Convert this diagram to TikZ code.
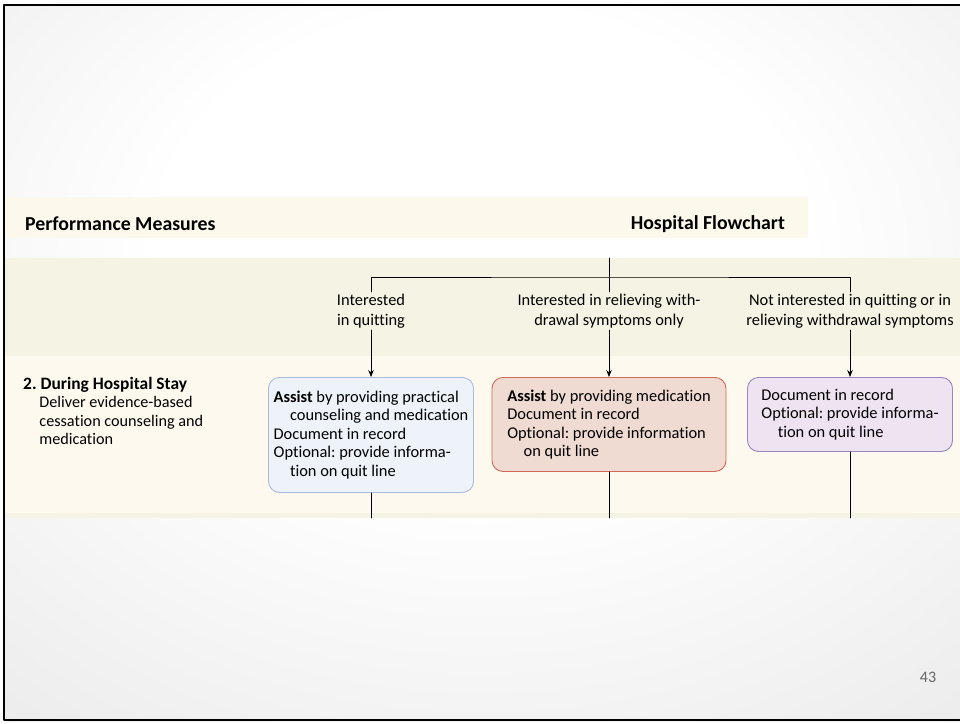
\documentclass[tikz,border=0pt]{standalone}
\usepackage{fontspec}
\setmainfont{Carlito}[Ligatures=NoCommon]
\usetikzlibrary{arrows.meta,positioning}
\definecolor{hfcream}{HTML}{FCF8EB}
\definecolor{hfband}{HTML}{F5F3E3}
\definecolor{hfrow}{HTML}{FDF9EF}
\definecolor{hfblue}{HTML}{EEF2F9}
\definecolor{hfblueline}{HTML}{A9BBDA}
\definecolor{hfred}{HTML}{F0DBD2}
\definecolor{hfredline}{HTML}{D06A55}
\definecolor{hfviolet}{HTML}{EEE3F1}
\definecolor{hfvioletline}{HTML}{9C84BC}
\pgfdeclareradialshading{slidebg}{\pgfpoint{0bp}{10bp}}{color(0bp)=(white);color(17bp)=(white);color(38bp)=(black!7);color(58bp)=(black!14);color(80bp)=(black!18)}
\tikzset{
  every picture/.append style={line cap=round,line join=round},
  hf head/.style={font=\fontsize{19.8}{22}\selectfont\bfseries,inner sep=0pt},
  hf label/.style={font=\fontsize{16.4}{19.5}\selectfont,align=center,inner sep=2pt},
  hf box/.style={rounded corners=11pt,line width=0.9pt,align=left,anchor=north,
    font=\fontsize{16.4}{18.5}\selectfont},
  hf arrow/.style={line width=0.8pt,-{Stealth[length=7pt,width=5.5pt]}},
  hf line/.style={line width=0.8pt},
  hf note/.style={font=\fontsize{16.2}{18.5}\selectfont,align=left,inner sep=0pt,anchor=north west}
}
\newcommand{\hfind}{\hspace*{1em}}
\frenchspacing

\begin{document}
\begin{tikzpicture}[x=1pt,y=-1pt]
  \useasboundingbox (0,0) rectangle (960,723);
  % slide background
  \shade[shading=slidebg] (5,5) rectangle (960,721);
  \draw[line width=2pt] (960,5) -- (4,5) -- (4,720) -- (960,720);

  % bands of the table
  \fill[hfcream] (5,197) rectangle (808,238);
  \fill[hfband] (5,258) rectangle (960,356);
  \fill[hfrow] (5,356) rectangle (960,513);
  \fill[hfband] (5,513) rectangle (960,518);

  \node[hf head,anchor=west] (measures) at (25,224) {Performance Measures};
  \node[hf head,anchor=east] (flowchart) at (785,224) {Hospital Flowchart};

  \node[hf note] (stay) at (23,377)
    {{\fontsize{17.4}{18.5}\selectfont\bfseries 2. During Hospital Stay}\\
     \hfind Deliver evidence-based\\
     \hfind cessation counseling and\\
     \hfind medication};

  % branches
  \coordinate (top) at (609,258);
  \coordinate (split) at (609,277);
  \node[hf label] (lblQuit) at (371,311) {Interested\\in quitting};
  \node[hf label] (lblRelieve) at (609,311) {Interested in relieving with-\\drawal symptoms only};
  \node[hf label] (lblNot) at (850,311) {Not interested in quitting or in\\relieving withdrawal symptoms};
  \draw[hf line] (top) -- (lblRelieve.north);
  \draw[hf line] (lblQuit.north) |- (split) -| (lblNot.north);

  \node[hf box,fill=hfblue,draw=hfblueline,minimum width=205pt,minimum height=115pt]
    (boxAssist) at (371,377)
    {\textbf{Assist} by providing practical\\
     \hfind counseling and medication\\
     Document in record\\
     Optional: provide informa-\\
     \hfind tion on quit line};
  \node[hf box,fill=hfred,draw=hfredline,minimum width=234pt,minimum height=94pt]
    (boxMed) at (609,377)
    {\textbf{Assist} by providing medication\\
     Document in record\\
     Optional: provide information\\
     \hfind on quit line};
  \node[hf box,fill=hfviolet,draw=hfvioletline,minimum width=205pt,minimum height=74pt]
    (boxDoc) at (850,377)
    {Document in record\\
     Optional: provide informa-\\
     \hfind tion on quit line};

  \draw[hf arrow] (lblQuit.south) -- (boxAssist.north);
  \draw[hf arrow] (lblRelieve.south) -- (boxMed.north);
  \draw[hf arrow] (lblNot.south) -- (boxDoc.north);

  \coordinate (endQuit) at (371,518);
  \coordinate (endMed) at (609,518);
  \coordinate (endDoc) at (850,518);
  \draw[hf line] (boxAssist.south) -- (endQuit);
  \draw[hf line] (boxMed.south) -- (endMed);
  \draw[hf line] (boxDoc.south) -- (endDoc);

  \node[text=black!60,font=\fontsize{16}{18}\selectfont] (page) at (928,677) {43};
\end{tikzpicture}
\end{document}
